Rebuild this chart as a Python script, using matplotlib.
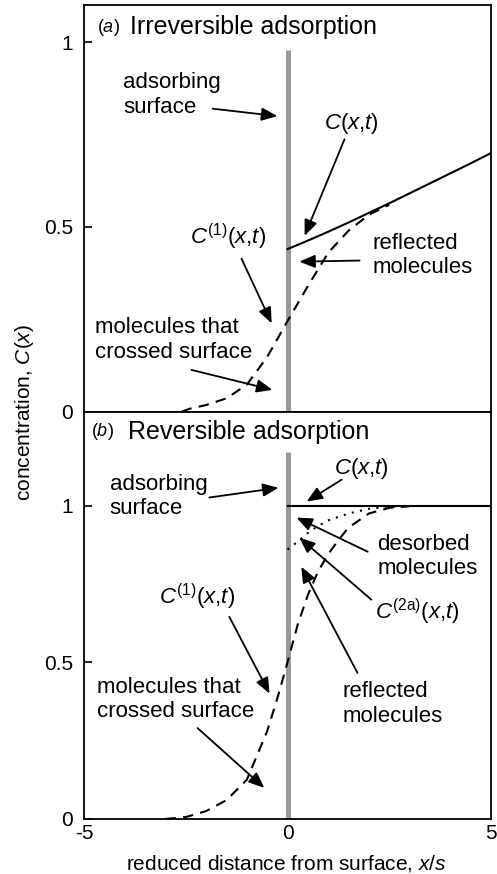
import matplotlib
matplotlib.use("Agg")
import matplotlib.pyplot as plt

# fonts: Arial-like, italic math letters
plt.rcParams['font.family'] = ['Liberation Sans', 'DejaVu Sans']
plt.rcParams['mathtext.fontset'] = 'custom'
plt.rcParams['mathtext.rm'] = 'Liberation Sans'
plt.rcParams['mathtext.it'] = 'Liberation Sans:italic'

# (a) irreversible adsorption
a_total_x = [0, 0.5, 1, 1.5, 2, 2.5, 3, 3.5, 4, 4.5, 5]
a_total_y = [0.44, 0.463, 0.487, 0.512, 0.538, 0.564, 0.591, 0.618, 0.645, 0.672, 0.70]
a_c1_x = [-2.6, -2.4, -2.0, -1.5, -1.0, -0.5, 0, 0.5, 1.0, 1.5, 2.0, 2.5]
a_c1_y = [0.0, 0.008, 0.018, 0.036, 0.073, 0.148, 0.245, 0.34, 0.43, 0.49, 0.533, 0.56]

# (b) reversible adsorption
b_total_x = [0, 5]
b_total_y = [1.0, 1.0]
b_c1_x = [-3.0, -2.5, -2.0, -1.5, -1.0, -0.5, -0.25, 0, 0.25, 0.5, 0.75, 1.0, 1.25, 1.5, 2.0, 2.5, 3.0]
b_c1_y = [0.0, 0.006, 0.025, 0.06, 0.125, 0.28, 0.385, 0.5, 0.62, 0.715, 0.79, 0.845, 0.89, 0.93, 0.975, 0.993, 0.998]
b_c2a_x = [0, 0.25, 0.5, 0.75, 1.0, 1.5, 2.0, 2.5, 3.0]
b_c2a_y = [0.86, 0.885, 0.913, 0.935, 0.953, 0.975, 0.99, 0.996, 0.999]

fs = 16
arrow = dict(arrowstyle='-|>,head_length=0.53,head_width=0.22', color='black',
             lw=1.3, mutation_scale=18, shrinkA=0, shrinkB=0)

fig = plt.figure(figsize=(4.97, 8.74), dpi=100)
ax1 = fig.add_axes([0.169, 0.529, 0.819, 0.465])
ax2 = fig.add_axes([0.169, 0.063, 0.819, 0.466])

for ax, ytop in [(ax1, 1.1), (ax2, 1.3)]:
    ax.set_xlim(-5, 5)
    ax.set_ylim(0, ytop)
    ax.set_yticks([0, 0.5, 1])
    ax.set_yticklabels(['0', '0.5', '1'])
    ax.tick_params(axis='y', direction='in', length=6, width=1.2, labelsize=15, pad=8)
    ax.tick_params(axis='x', length=0, labelsize=15, pad=4)
    for sp in ax.spines.values():
        sp.set_linewidth(1.3)

ax1.set_xticks([])
ax2.set_xticks([-5, 0, 5])
ax2.set_xticklabels(['-5', '0', '5'])

# --- panel (a)
ax1.plot([0, 0], [0, 0.98], color='#999999', lw=3.6, solid_capstyle='butt')
ax1.plot(a_c1_x, a_c1_y, color='black', lw=1.5, ls=(0, (5, 3.5)))
ax1.plot(a_total_x, a_total_y, color='black', lw=1.5)

ax1.text(-4.69, 1.04, r'($\mathit{a}$)', fontsize=13, va='center', ha='left')
ax1.text(-3.88, 1.04, 'Irreversible adsorption', fontsize=18, va='center', ha='left')

ax1.text(-4.03, 0.857, 'adsorbing\nsurface', fontsize=fs, va='center', ha='left')
ax1.annotate('', xy=(-0.25, 0.80), xytext=(-1.84, 0.82), arrowprops=arrow)

ax1.text(1.57, 0.78, r'$C\mathrm{(}x\mathrm{,}t\mathrm{)}$', fontsize=fs, va='center', ha='center')
ax1.annotate('', xy=(0.42, 0.476), xytext=(1.40, 0.737), arrowprops=arrow)

ax1.text(-1.45, 0.473, r'$C^{\mathrm{(1)}}\mathrm{(}x\mathrm{,}t\mathrm{)}$', fontsize=fs, va='center', ha='center')
ax1.annotate('', xy=(-0.39, 0.239), xytext=(-1.13, 0.414), arrowprops=arrow)

ax1.text(2.09, 0.422, 'reflected\nmolecules', fontsize=fs, va='center', ha='left')
ax1.annotate('', xy=(0.29, 0.406), xytext=(1.77, 0.409), arrowprops=arrow)

ax1.text(-4.74, 0.194, 'molecules that\ncrossed surface', fontsize=fs, va='center', ha='left')
ax1.annotate('', xy=(-0.37, 0.059), xytext=(-2.36, 0.113), arrowprops=arrow)

# --- panel (b)
ax2.plot([0, 0], [0, 1.17], color='#999999', lw=3.6, solid_capstyle='butt')
ax2.plot(b_c1_x, b_c1_y, color='black', lw=1.5, ls=(0, (5, 3.5)))
ax2.plot(b_c2a_x, b_c2a_y, color='black', lw=1.5, ls=(0, (1, 3)))
ax2.plot(b_total_x, b_total_y, color='black', lw=1.5)

ax2.text(-4.82, 1.236, r'($\mathit{b}$)', fontsize=13, va='center', ha='left')
ax2.text(-3.93, 1.236, 'Reversible adsorption', fontsize=18, va='center', ha='left')

ax2.text(-4.37, 1.03, 'adsorbing\nsurface', fontsize=fs, va='center', ha='left')
ax2.annotate('', xy=(-0.22, 1.057), xytext=(-1.92, 1.026), arrowprops=arrow)

ax2.text(1.82, 1.12, r'$C\mathrm{(}x\mathrm{,}t\mathrm{)}$', fontsize=fs, va='center', ha='center')
ax2.annotate('', xy=(0.47, 1.013), xytext=(1.33, 1.083), arrowprops=arrow)

ax2.text(2.21, 0.837, 'desorbed\nmolecules', fontsize=fs, va='center', ha='left')
ax2.annotate('', xy=(0.22, 0.962), xytext=(1.97, 0.853), arrowprops=arrow)

ax2.text(3.19, 0.66, r'$C^{\mathrm{(2a)}}\mathrm{(}x\mathrm{,}t\mathrm{)}$', fontsize=fs, va='center', ha='center')
ax2.annotate('', xy=(0.29, 0.898), xytext=(2.06, 0.70), arrowprops=arrow)

ax2.text(-2.23, 0.709, r'$C^{\mathrm{(1)}}\mathrm{(}x\mathrm{,}t\mathrm{)}$', fontsize=fs, va='center', ha='center')
ax2.annotate('', xy=(-0.44, 0.40), xytext=(-1.43, 0.645), arrowprops=arrow)

ax2.text(1.35, 0.367, 'reflected\nmolecules', fontsize=fs, va='center', ha='left')
ax2.annotate('', xy=(0.34, 0.805), xytext=(1.72, 0.466), arrowprops=arrow)

ax2.text(-4.69, 0.38, 'molecules that\ncrossed surface', fontsize=fs, va='center', ha='left')
ax2.annotate('', xy=(-0.57, 0.099), xytext=(-2.21, 0.29), arrowprops=arrow)

fig.text(25 / 497, 1 - 412 / 874, r'concentration, $C\mathrm{(}x\mathrm{)}$', fontsize=15,
         rotation=90, va='center', ha='center')
fig.text(286 / 497, 1 - 863 / 874, r'reduced distance from surface, $x\mathrm{/}s$', fontsize=15,
         va='center', ha='center')

fig.savefig('out.png', dpi=100)
